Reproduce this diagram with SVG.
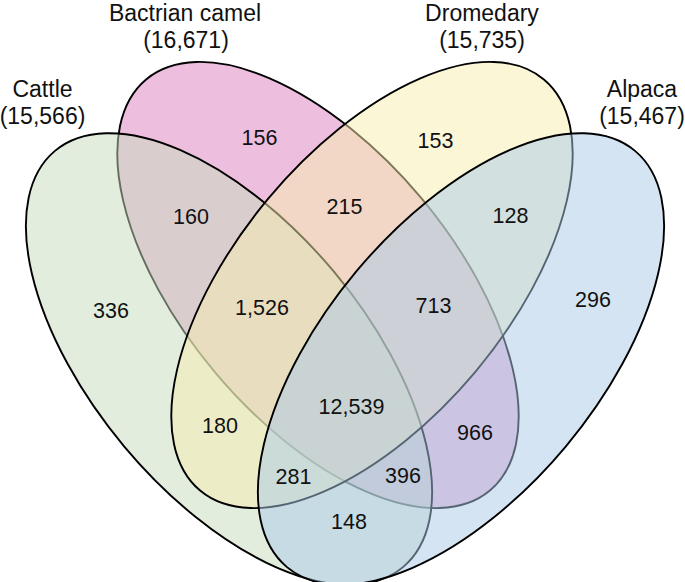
<svg xmlns="http://www.w3.org/2000/svg" width="685" height="582" viewBox="0 0 685 582">
  <style>
    .set { fill-opacity: 0.5; stroke: #000; stroke-width: 1.9; }
    .lbl { font-family: "Liberation Sans", Arial, Helvetica, sans-serif; font-size: 23px; fill: #111; text-anchor: middle; }
    .num { font-family: "Liberation Sans", Arial, Helvetica, sans-serif; font-size: 21.5px; fill: #111; text-anchor: middle; }
  </style>
  <rect width="685" height="582" fill="#fff"/>
  <g id="bactrian">
    <ellipse class="set" cx="318" cy="285" rx="268" ry="135" transform="rotate(50.1 318 285)" fill="#dd7dbd"/>
    <text class="lbl" x="185" y="21">Bactrian camel</text>
    <text class="lbl" x="186" y="48">(16,671)</text>
  </g>
  <g id="cattle">
    <ellipse class="set" cx="229" cy="359" rx="271.3" ry="136.5" transform="rotate(50.1 229 359)" fill="#c5dbbd"/>
    <text class="lbl" x="42.5" y="97">Cattle</text>
    <text class="lbl" x="42.5" y="124">(15,566)</text>
  </g>
  <g id="dromedary">
    <ellipse class="set" cx="372" cy="285" rx="268" ry="135" transform="rotate(-50.1 372 285)" fill="#f5edad"/>
    <text class="lbl" x="482" y="21">Dromedary</text>
    <text class="lbl" x="482" y="48">(15,735)</text>
  </g>
  <g id="alpaca">
    <ellipse class="set" cx="461" cy="359" rx="271.3" ry="136.5" transform="rotate(-50.1 461 359)" fill="#a9c9e7"/>
    <text class="lbl" x="642" y="97">Alpaca</text>
    <text class="lbl" x="642" y="124">(15,467)</text>
  </g>
  <g id="counts">
    <text class="num" x="259.5" y="145">156</text>
    <text class="num" x="435.5" y="148">153</text>
    <text class="num" x="191" y="224">160</text>
    <text class="num" x="344.5" y="214">215</text>
    <text class="num" x="510.5" y="223">128</text>
    <text class="num" x="111" y="318">336</text>
    <text class="num" x="262" y="315">1,526</text>
    <text class="num" x="433.5" y="313">713</text>
    <text class="num" x="593" y="307">296</text>
    <text class="num" x="351.5" y="414">12,539</text>
    <text class="num" x="220" y="433">180</text>
    <text class="num" x="475" y="440">966</text>
    <text class="num" x="293.5" y="484">281</text>
    <text class="num" x="403" y="483">396</text>
    <text class="num" x="349" y="529">148</text>
  </g>
</svg>
